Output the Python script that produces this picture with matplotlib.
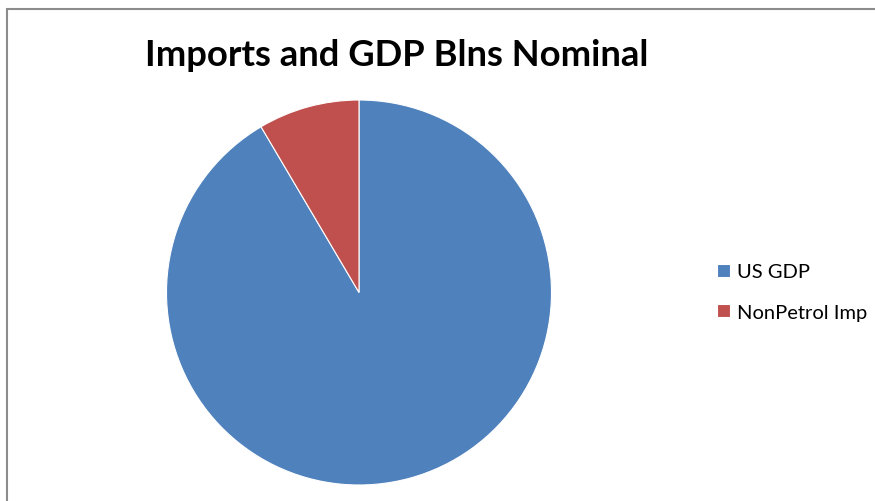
import matplotlib
matplotlib.use("Agg")
import matplotlib.pyplot as plt
from matplotlib.patches import Rectangle

labels = ["US GDP", "NonPetrol Imp"]
values = [14000, 1300]
colors = ["#4F81BD", "#C0504D"]
title = "Imports and GDP Blns Nominal"

W, H = 875, 502
fig = plt.figure(figsize=(W / 100, H / 100), dpi=100)
fig.patch.set_facecolor("white")

# outer chart border (clipped at right/bottom like the reference)
fig.patches.append(Rectangle((6.5 / W, -0.05), 1.2, (H - 9.5) / H + 0.05,
                             transform=fig.transFigure, fill=False,
                             edgecolor="#8C8C8C", linewidth=1.5))

cx, cy, r = 359, 293.5, 192.5
ax = fig.add_axes([(cx - r) / W, (H - cy - r) / H, 2 * r / W, 2 * r / H])
wedges, _ = ax.pie(values, colors=colors, startangle=90, counterclock=False,
                   radius=1, wedgeprops=dict(edgecolor="white", linewidth=0.8))
ax.set_xlim(-1, 1)
ax.set_ylim(-1, 1)
ax.set_aspect("auto")
ax.axis("off")

fig.text(397 / W, 1 - 55 / H, title, ha="center", va="center",
         fontsize=26.2, fontweight="bold", family="Lato", color="black")

leg = fig.legend(wedges, labels, loc="center left",
                 bbox_to_anchor=(699 / W, 1 - 293 / H), frameon=False,
                 prop=dict(family="Lato", size=14.5), handlelength=0.65,
                 handleheight=0.65, handletextpad=0.35, labelspacing=1.15)

fig.savefig("out.png", dpi=100)
